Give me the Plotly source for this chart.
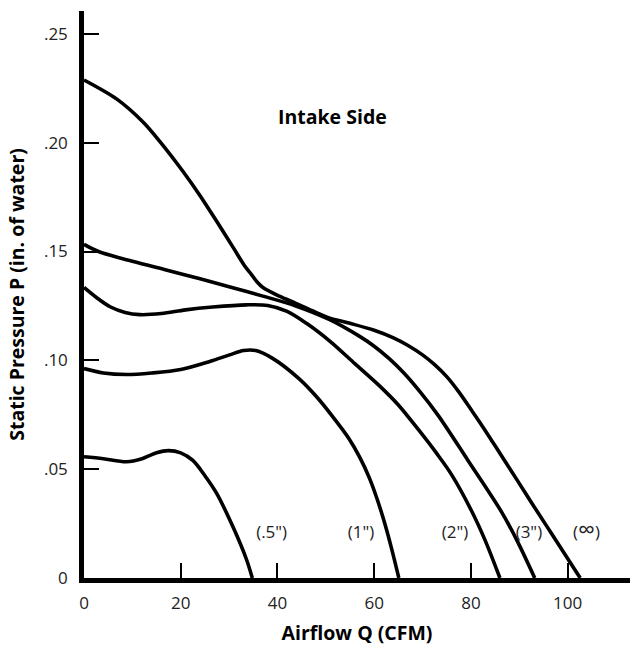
import plotly.graph_objects as go

# Fan curves: airflow Q (CFM) vs static pressure P (in. of water), intake side
q_half = [0, 4, 8.8, 12, 15, 17.4, 20, 22.5, 25, 27.4, 30.8, 33.6, 34.8]
p_half = [0.0557, 0.0548, 0.0534, 0.0548, 0.0575, 0.0585, 0.0575, 0.054, 0.047, 0.039, 0.0235, 0.0085, 0.0]

q_one = [0, 4, 8.8, 14, 20, 26, 30.1, 33, 35.5, 39, 44.5, 48, 51.3, 54.8, 57, 59, 60.5, 62, 63.6, 65.1]
p_one = [0.0962, 0.0942, 0.0935, 0.0942, 0.0958, 0.0995, 0.1025, 0.1045, 0.1045, 0.1009, 0.0915, 0.0835, 0.0745, 0.064, 0.0555, 0.046, 0.037, 0.0265, 0.0135, 0.0]

q_two = [0, 2.5, 5.5, 8.5, 11.5, 16, 21, 26.6, 33.6, 38, 42, 46, 51, 56, 61, 65, 69.2, 73, 76, 80.1, 82.9, 86]
p_two = [0.1335, 0.129, 0.1245, 0.122, 0.121, 0.1215, 0.1232, 0.1245, 0.1255, 0.1252, 0.1225, 0.117, 0.1085, 0.0985, 0.0885, 0.0795, 0.068, 0.057, 0.0475, 0.031, 0.0175, 0.0]

q_three = [0, 3, 10, 17, 24, 30, 37, 43.8, 50.7, 57, 60, 63, 66, 69.5, 73.3, 79.4, 86.3, 89.7, 93.2]
p_three = [0.1533, 0.150, 0.1455, 0.1415, 0.1375, 0.1338, 0.1295, 0.125, 0.1188, 0.111, 0.1065, 0.101, 0.0945, 0.0855, 0.0745, 0.054, 0.0305, 0.0165, 0.0]

q_inf = [0, 6.8, 12.2, 15.7, 20.4, 23.9, 27.4, 30.8, 33.2, 34.6, 35.8, 37, 40.4, 43.8, 47.2, 50.7, 55, 60, 64, 67, 70, 72.5, 75, 77.5, 80, 82, 85.8, 89.7, 93, 96.5, 102.6]
p_inf = [0.2288, 0.220, 0.2095, 0.2005, 0.187, 0.176, 0.164, 0.152, 0.1435, 0.1395, 0.136, 0.1335, 0.1295, 0.1262, 0.1228, 0.1195, 0.117, 0.1138, 0.1103, 0.1068, 0.1025, 0.098, 0.0925, 0.0855, 0.0775, 0.071, 0.058, 0.0445, 0.033, 0.021, 0.0]

curve_names = ['(.5")', '(1")', '(2")', '(3")', '(∞)']
label_text = ['(.5")', '(1")', '(2")', '(3")', '(<span style="font-size:24px">∞</span>)']
label_q = [38.8, 57.3, 76.7, 92.0, 103.9]
label_p = [0.0205, 0.0205, 0.0205, 0.0205, 0.0205]

x_ticks = [0, 20, 40, 60, 80, 100]
x_tick_text = ["0", "20", "40", "60", "80", "100"]
y_ticks = [0, 0.05, 0.10, 0.15, 0.20, 0.25]
y_tick_text = ["0", ".05", ".10", ".15", ".20", ".25"]

FONT = "Open Sans, Liberation Sans, Arial, sans-serif"

fig = go.Figure()
for qs, ps, nm in zip([q_half, q_one, q_two, q_three, q_inf],
                      [p_half, p_one, p_two, p_three, p_inf], curve_names):
    fig.add_trace(go.Scatter(x=qs, y=ps, mode="lines", name=nm,
                             line=dict(color="black", width=3.6, shape="spline", smoothing=0.9),
                             showlegend=False, hoverinfo="skip"))

fig.add_trace(go.Scatter(x=label_q, y=label_p, mode="text", text=label_text,
                         textfont=dict(family=FONT, size=17, color="#222"),
                         showlegend=False, hoverinfo="skip"))

fig.add_annotation(x=51.3, y=0.212, text="<b>Intake Side</b>", showarrow=False,
                   font=dict(family=FONT, size=19.5, color="black"))

fig.update_xaxes(range=[0, 112.9], tickvals=x_ticks, ticktext=x_tick_text,
                 ticks="inside", ticklen=15, tickwidth=1.5, tickcolor="black",
                 showline=True, linewidth=4.5, linecolor="black", showgrid=False, zeroline=False,
                 tickfont=dict(family=FONT, size=17, color="#222"), ticklabelstandoff=6,
                 title=dict(text="<b>Airflow Q (CFM)</b>", font=dict(family=FONT, size=19.5, color="black"),
                            standoff=15))
fig.update_yaxes(range=[0, 0.2605], tickvals=y_ticks, ticktext=y_tick_text,
                 ticks="inside", ticklen=15, tickwidth=1.5, tickcolor="black",
                 showline=True, linewidth=4.5, linecolor="black", showgrid=False, zeroline=False,
                 tickfont=dict(family=FONT, size=17, color="#222"), ticklabelstandoff=8,
                 title=dict(text="<b>Static Pressure P (in. of water)</b>",
                            font=dict(family=FONT, size=19.5, color="black"), standoff=16))

fig.update_layout(width=631, height=648, margin=dict(l=84, r=1, t=11, b=70),
                  plot_bgcolor="white", paper_bgcolor="white")

fig.write_html("out.html")
